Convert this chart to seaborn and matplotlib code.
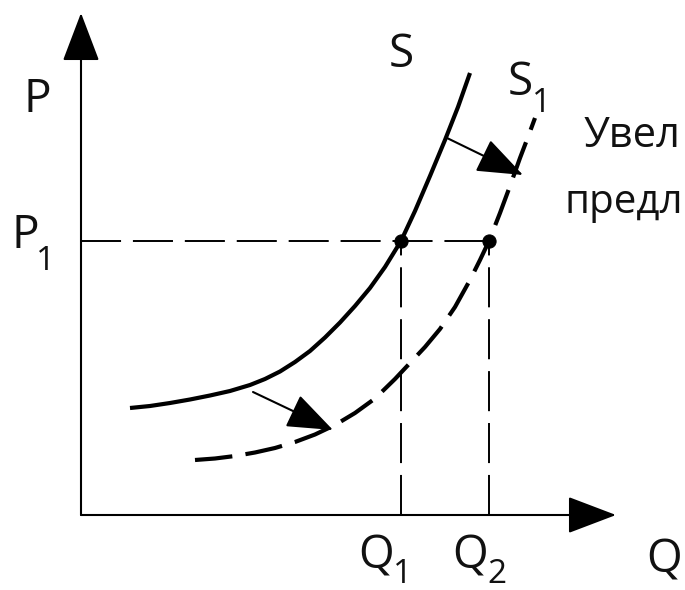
import matplotlib
matplotlib.use("Agg")
import matplotlib.pyplot as plt
import seaborn as sns

sns.set_style("white")
plt.rcParams['font.family'] = ['Open Sans', 'DejaVu Sans']

# ---- data (chart units) ----
s_q = [0.49, 0.69, 0.89, 1.09, 1.29, 1.49, 1.69, 1.84, 1.99, 2.14, 2.29, 2.44,
       2.59, 2.74, 2.89, 3.04, 3.20, 3.34, 3.49, 3.64, 3.77, 3.89]
s_p = [1.07, 1.09, 1.12, 1.155, 1.195, 1.24, 1.30, 1.36, 1.435, 1.53, 1.64, 1.775,
       1.925, 2.09, 2.27, 2.48, 2.74, 3.04, 3.39, 3.75, 4.08, 4.42]

s1_q = [1.14, 1.34, 1.54, 1.74, 1.94, 2.14, 2.34, 2.54, 2.74, 2.94, 3.14, 3.29,
        3.44, 3.59, 3.74, 3.89, 3.99, 4.08, 4.19, 4.29, 4.39, 4.47, 4.54]
s1_p = [0.55, 0.565, 0.59, 0.625, 0.67, 0.73, 0.805, 0.90, 1.02, 1.165, 1.36, 1.52,
        1.68, 1.86, 2.08, 2.35, 2.55, 2.74, 3.02, 3.29, 3.57, 3.78, 3.97]

q1 = 3.20
q2 = 4.08
p1 = 2.74

axis_q_max = 5.35
axis_p_max = 5.02

# shift arrows
shift_start_q = [3.66, 1.72]
shift_start_p = [3.77, 1.23]
shift_end_q = [4.42, 2.52]
shift_end_p = [3.40, 0.85]

label_axis_p = "P"
label_axis_q = "Q"
label_s = "S"
label_s1 = "S"
label_p1 = "P"
label_q = "Q"
sub_1 = "1"
sub_2 = "2"
caption_lines = ["Увел", "предл"]

# ---- figure ----
fig = plt.figure(figsize=(6.85, 5.9), dpi=100)
ax = fig.add_axes([0, 0, 1, 1])
ax.set_xlim(-0.81, 6.04)
ax.set_ylim(-0.75, 5.15)
ax.axis('off')

def px(x_pix, y_pix):
    """pixel position (from top-left) -> data coords, for text placement"""
    return (x_pix - 81) / 100.0, (515 - y_pix) / 100.0

# axes with arrows
axis_style = dict(arrowstyle="-|>,head_length=1.0,head_width=0.38",
                  mutation_scale=31, lw=1.5, color="black",
                  shrinkA=0, shrinkB=0)
ax.annotate("", xy=(0, axis_p_max), xytext=(0, 0), arrowprops=axis_style)
ax.annotate("", xy=(axis_q_max, 0), xytext=(0, 0), arrowprops=axis_style)

# guide lines
guide = dict(color="black", lw=1.4, linestyle=(0, (20.6, 6.1)))
ax.plot([0, q2], [p1, p1], **guide)
ax.plot([q1, q1], [0, p1], **guide)
ax.plot([q2, q2], [0, p1], **guide)

# supply curves
sns.lineplot(x=s_q, y=s_p, sort=False, estimator=None, color="black",
             lw=3.0, ax=ax, solid_capstyle="butt", solid_joinstyle="round")
sns.lineplot(x=s1_q, y=s1_p, sort=False, estimator=None, color="black",
             lw=3.0, ax=ax, linestyle=(0, (9.0, 3.2)), dash_capstyle="butt",
             dash_joinstyle="round")

# equilibrium dots
sns.scatterplot(x=[q1, q2], y=[p1, p1], color="black", s=90, ax=ax,
                edgecolor="black", zorder=5)

# shift arrows
shift_style = dict(arrowstyle="-|>,head_length=1.0,head_width=0.38",
                   mutation_scale=29, lw=1.5, color="black",
                   shrinkA=0, shrinkB=0)
for sq, sp, eq, ep in zip(shift_start_q, shift_start_p, shift_end_q, shift_end_p):
    ax.annotate("", xy=(eq, ep), xytext=(sq, sp), arrowprops=shift_style)

fs = 33
fs_sub = 24
t = dict(color="#111111", va="baseline", ha="center")

ax.text(*px(37.5, 112), label_axis_p, fontsize=fs, **t)
ax.text(*px(25.5, 248), label_p1, fontsize=fs, **t)
ax.text(*px(46, 270), sub_1, fontsize=fs_sub, **t)
ax.text(*px(401, 67), label_s, fontsize=fs, **t)
ax.text(*px(520, 95), label_s1, fontsize=fs, **t)
ax.text(*px(542, 112), sub_1, fontsize=fs_sub, **t)
ax.text(*px(376, 568), label_q, fontsize=fs, **t)
ax.text(*px(403, 583), sub_1, fontsize=fs_sub, **t)
ax.text(*px(470, 568), label_q, fontsize=fs, **t)
ax.text(*px(497, 583), sub_2, fontsize=fs_sub, **t)
ax.text(*px(664, 572), label_axis_q, fontsize=fs, **t)

ax.text(*px(584, 147), caption_lines[0], fontsize=30, color="#111111",
        va="baseline", ha="left")
ax.text(*px(564, 213), caption_lines[1], fontsize=29, color="#111111",
        va="baseline", ha="left")

fig.savefig("out.png", dpi=100)
